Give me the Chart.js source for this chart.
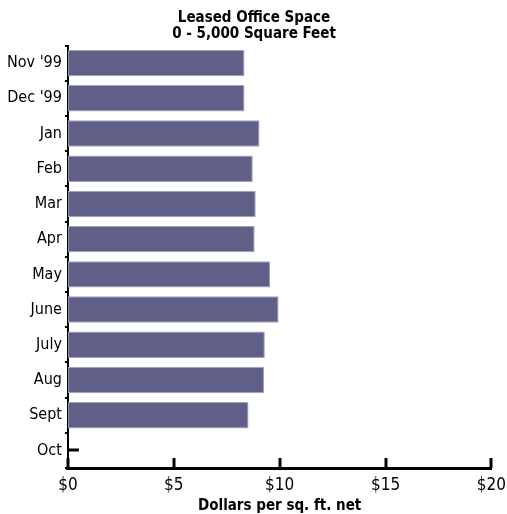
<!DOCTYPE html>
<html>
<head>
<meta charset="utf-8">
<script src="https://cdn.jsdelivr.net/npm/chart.js@4.4.1/dist/chart.umd.min.js"></script>
<style>
    html, body { margin: 0; padding: 0; background: #fff; }
    #wrap { width: 507px; height: 514px; position: relative; }
</style>
</head>
<body>
<div id="wrap"><canvas id="chart"></canvas></div>
<script>
const months = ["Nov '99", "Dec '99", "Jan", "Feb", "Mar", "Apr", "May", "June", "July", "Aug", "Sept", "Oct"];
const rates = [8.34, 8.34, 9.05, 8.73, 8.87, 8.82, 9.55, 9.95, 9.30, 9.27, 8.53, null];
const xTicks = [0, 5, 10, 15, 20];

const FONT = "'Liberation Sans Narrow', 'DejaVu Sans Condensed', sans-serif";

// ticks on the x axis point up into the plot, and empty months get a short stub
const axisMarks = {
    id: 'axisMarks',
    afterDraw(chart) {
        const ctx = chart.ctx;
        const x = chart.scales.x;
        const y = chart.scales.y;
        ctx.save();
        ctx.strokeStyle = '#000';
        ctx.lineWidth = 3;
        xTicks.forEach(v => {
            const px = Math.round(x.getPixelForValue(v));
            ctx.beginPath();
            ctx.moveTo(px, y.bottom);
            ctx.lineTo(px, y.bottom - 10);
            ctx.stroke();
        });
        rates.forEach((v, i) => {
            if (v === null) {
                const py = Math.round(y.getPixelForValue(i));
                ctx.beginPath();
                ctx.moveTo(x.left, py);
                ctx.lineTo(x.left + 11, py);
                ctx.stroke();
            }
        });
        ctx.restore();
    }
};

new Chart(document.getElementById('chart'), {
    type: 'bar',
    data: {
        labels: months,
        datasets: [{
            data: rates,
            backgroundColor: '#5f5f87',
            borderColor: '#a3a3c2',
            borderWidth: 1,
            borderSkipped: false,
            barPercentage: 0.75,
            categoryPercentage: 1,
        }]
    },
    options: {
        indexAxis: 'y',
        responsive: true,
        maintainAspectRatio: false,
        animation: false,
        layout: {
            padding: { left: 4, right: 3, top: 0, bottom: 0 }
        },
        scales: {
            x: {
                min: 0,
                max: 20,
                afterBuildTicks: axis => {
                    axis.ticks = xTicks.map(v => ({ value: v }));
                },
                grid: { display: false },
                border: { display: true, color: '#000', width: 3 },
                ticks: {
                    color: '#000',
                    padding: 1,
                    font: { family: FONT, size: 17, lineHeight: 1.0 },
                    callback: v => '$' + v,
                },
                title: {
                    display: true,
                    text: 'Dollars per sq. ft. net',
                    color: '#000',
                    padding: { top: 4, bottom: 0 },
                    font: { family: FONT, size: 15, weight: 'bold', lineHeight: 1.0 }
                }
            },
            y: {
                grid: {
                    drawOnChartArea: false,
                    color: '#000',
                    lineWidth: 2,
                    tickLength: 3,
                },
                border: { display: true, color: '#000', width: 2 },
                ticks: {
                    color: '#000',
                    padding: 3,
                    font: { family: FONT, size: 16 },
                }
            }
        },
        plugins: {
            legend: { display: false },
            tooltip: { enabled: false },
            title: {
                display: true,
                text: ['Leased Office Space', '0 - 5,000 Square Feet'],
                color: '#000',
                padding: { top: 10, bottom: 4 },
                font: { family: FONT, size: 15, weight: 'bold', lineHeight: 1.05 }
            }
        }
    },
    plugins: [axisMarks]
});
</script>
</body>
</html>
